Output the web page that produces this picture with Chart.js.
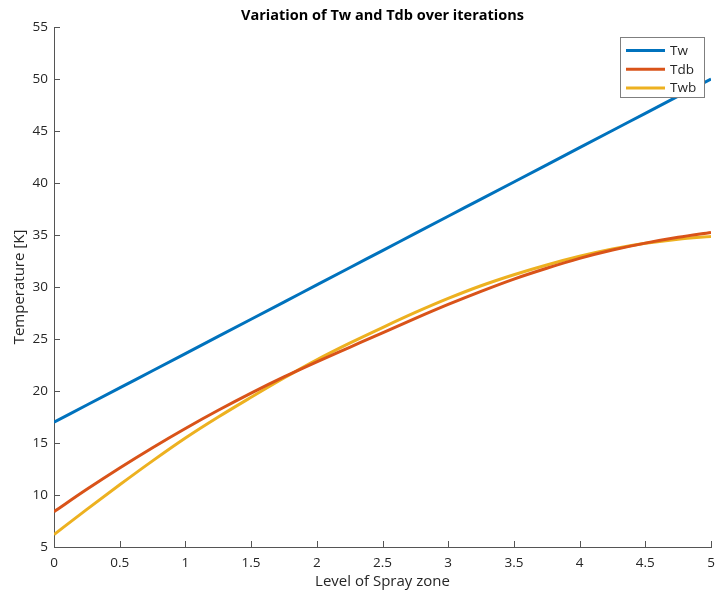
<!DOCTYPE html>
<html>
<head>
<meta charset="utf-8">
<script src="https://cdn.jsdelivr.net/npm/chart.js@4/dist/chart.umd.min.js"></script>
<style>
  html, body { margin: 0; padding: 0; background: #ffffff; }
  #wrap { width: 716px; height: 598px; position: relative; }
</style>
</head>
<body>
<div id="wrap"><canvas id="c" width="716" height="598"></canvas></div>
<script>
// ---- data ----
const levels = [0, 0.25, 0.5, 0.75, 1, 1.25, 1.5, 1.75, 2, 2.25, 2.5, 2.75, 3, 3.25, 3.5, 3.75, 4, 4.25, 4.5, 4.75, 5];
const tw  = [17.0, 18.65, 20.3, 21.95, 23.6, 25.25, 26.9, 28.55, 30.2, 31.85, 33.5, 35.15, 36.8, 38.45, 40.1, 41.75, 43.4, 45.05, 46.7, 48.35, 50.0];
const tdb = [8.4, 10.55, 12.6, 14.55, 16.4, 18.15, 19.8, 21.35, 22.8, 24.2, 25.6, 26.98, 28.32, 29.58, 30.76, 31.8, 32.75, 33.55, 34.22, 34.78, 35.25];
const twb = [6.2, 8.62, 10.98, 13.28, 15.48, 17.5, 19.4, 21.25, 23.0, 24.6, 26.1, 27.55, 28.9, 30.12, 31.18, 32.12, 32.95, 33.65, 34.2, 34.6, 34.85];
const seriesNames = ['Tw', 'Tdb', 'Twb'];
const seriesColors = ['#0072BD', '#D95319', '#EDB120'];
const chartTitle = 'Variation of Tw and Tdb over iterations';
const xTitle = 'Level of Spray zone';
const yTitle = 'Temperature [K]';
const xMin = 0, xMax = 5, xStep = 0.5;
const yMin = 5, yMax = 55, yStep = 5;

const FONT = "'Open Sans', 'Noto Sans', sans-serif";
const TEXT = '#262626';

function pts(vals) { return levels.map((x, i) => ({ x: x, y: vals[i] })); }

const allSeries = [tw, tdb, twb];

const insideTicks = {
  id: 'insideTicks',
  afterDatasetsDraw(chart) {
    const ctx = chart.ctx;
    const xs = chart.scales.x, ys = chart.scales.y;
    const a = chart.chartArea;
    ctx.save();
    ctx.strokeStyle = '#555';
    ctx.lineWidth = 1;
    ctx.beginPath();
    xs.ticks.forEach(t => {
      const px = Math.round(xs.getPixelForValue(t.value)) + 0.5;
      ctx.moveTo(px, a.bottom);
      ctx.lineTo(px, a.bottom - 6);
    });
    ys.ticks.forEach(t => {
      const py = Math.round(ys.getPixelForValue(t.value)) + 0.5;
      ctx.moveTo(a.left, py);
      ctx.lineTo(a.left + 6, py);
    });
    ctx.stroke();
    ctx.restore();
  }
};

const titleAndLegend = {
  id: 'titleAndLegend',
  afterDraw(chart) {
    const ctx = chart.ctx;
    const a = chart.chartArea;
    ctx.save();
    // title
    ctx.fillStyle = '#000';
    ctx.font = 'bold 14.5px ' + FONT;
    ctx.textAlign = 'center';
    ctx.textBaseline = 'middle';
    ctx.fillText(chartTitle, (a.left + a.right) / 2, 16);
    // legend box
    const bx = 620.5, by = 37.5, bw = 84, bh = 60;
    ctx.fillStyle = '#fff';
    ctx.fillRect(bx, by, bw, bh);
    ctx.strokeStyle = '#7f7f7f';
    ctx.lineWidth = 1;
    ctx.strokeRect(bx, by, bw, bh);
    ctx.font = '13.5px ' + FONT;
    ctx.textAlign = 'left';
    chart.data.datasets.forEach((ds, i) => {
      const yy = 50.5 + i * 18.7;
      ctx.strokeStyle = ds.borderColor;
      ctx.lineWidth = 3;
      ctx.beginPath();
      ctx.moveTo(626, yy);
      ctx.lineTo(665, yy);
      ctx.stroke();
      ctx.fillStyle = TEXT;
      ctx.fillText(ds.label, 670, yy + 0.5);
    });
    ctx.restore();
  }
};

new Chart(document.getElementById('c'), {
  type: 'line',
  data: {
    datasets: allSeries.map((vals, i) => ({
      label: seriesNames[i],
      data: pts(vals),
      borderColor: seriesColors[i],
      backgroundColor: seriesColors[i],
      borderWidth: 3,
      pointRadius: 0,
      cubicInterpolationMode: 'monotone',
      fill: false
    }))
  },
  options: {
    responsive: false,
    animation: false,
    layout: { padding: { left: 0, right: 5, top: 27, bottom: 0 } },
    plugins: {
      legend: { display: false },
      title: { display: false },
      tooltip: { enabled: false }
    },
    scales: {
      x: {
        type: 'linear',
        min: xMin, max: xMax,
        afterFit: s => { s.height = 51; s.paddingLeft = 0; s.paddingRight = 0; },
        grid: { display: false, drawTicks: false },
        border: { display: true, color: '#555', width: 1 },
        ticks: {
          stepSize: xStep,
          padding: 8,
          color: TEXT,
          font: { family: FONT, size: 13.5 },
          maxRotation: 0,
          autoSkip: false,
          callback: v => String(v)
        },
        title: {
          display: true, text: xTitle, color: TEXT,
          font: { family: FONT, size: 15 },
          padding: { top: 0, bottom: 7 }
        }
      },
      y: {
        type: 'linear',
        min: yMin, max: yMax,
        afterFit: s => { s.width = 54; s.paddingTop = 0; s.paddingBottom = 0; },
        grid: { display: false, drawTicks: false },
        border: { display: true, color: '#555', width: 1 },
        ticks: {
          stepSize: yStep,
          padding: 6,
          color: TEXT,
          font: { family: FONT, size: 13.5 },
          autoSkip: false
        },
        title: {
          display: true, text: yTitle, color: TEXT,
          font: { family: FONT, size: 15 },
          padding: { top: 11, bottom: 0 }
        }
      }
    }
  },
  plugins: [insideTicks, titleAndLegend]
});
</script>
</body>
</html>
